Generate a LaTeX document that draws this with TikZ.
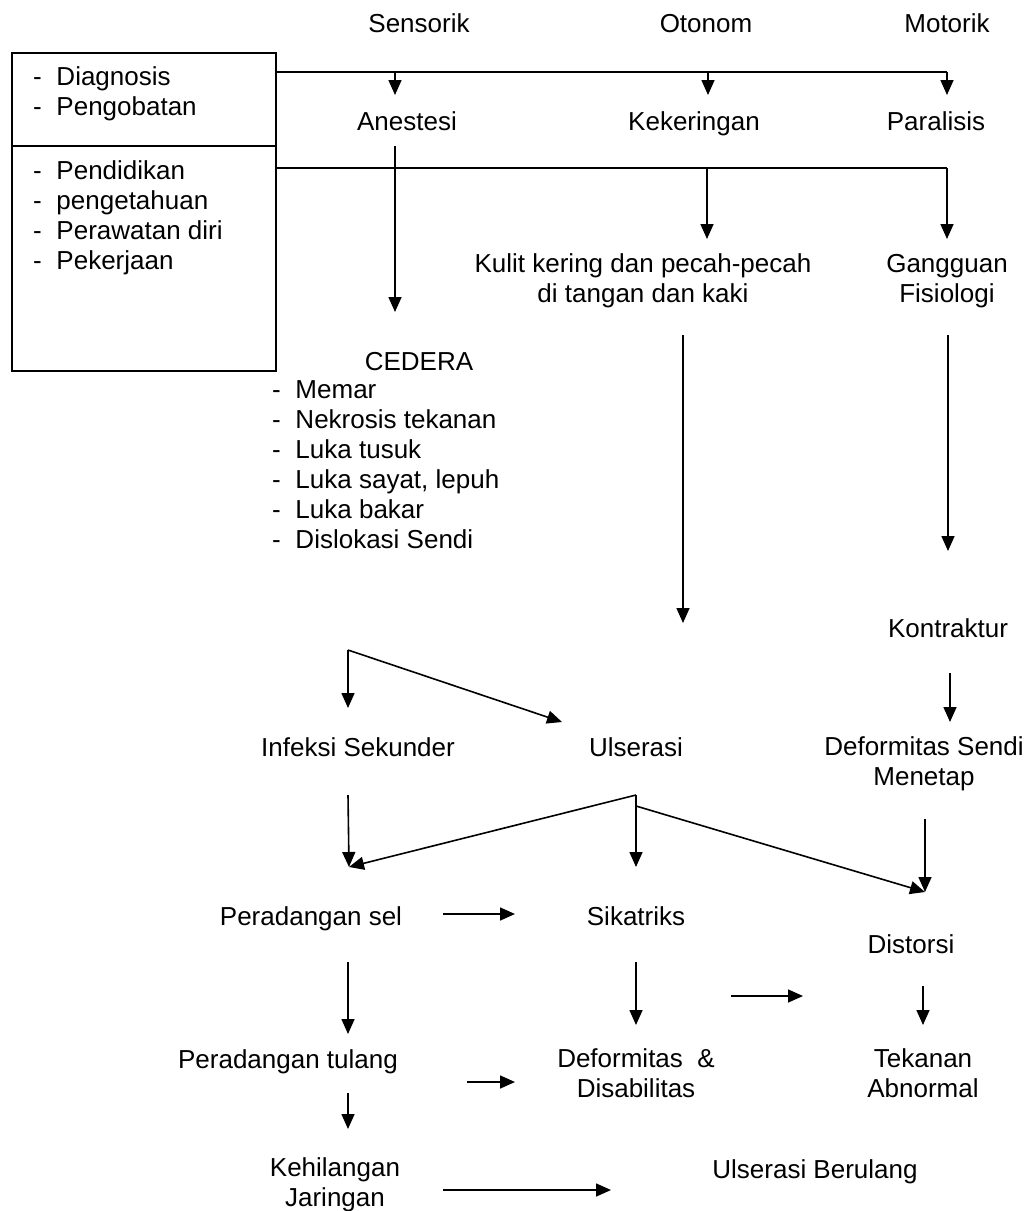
\documentclass[tikz,border=0pt]{standalone}
\usepackage{fontspec}
\setmainfont{Liberation Sans}
\usetikzlibrary{positioning,arrows.meta}

\tikzset{
  teks/.style={inner sep=0pt, outer sep=0pt, align=center, font=\fontsize{26}{30}\selectfont},
  daftar/.style={teks, align=left, anchor=north west},
  kotak/.style={draw, line width=1.8pt, inner sep=0pt, anchor=north west},
  garis/.style={line width=1.6pt},
  panah/.style={garis, -{Triangle[length=15pt,width=13pt]}},
}
\newcommand{\butir}[1]{\makebox[23.5pt][l]{-}#1}

\begin{document}
\begin{tikzpicture}[x=1pt,y=-1pt]
  \useasboundingbox (0,0) rectangle (1031,1211);

  % kotak faktor
  \node[kotak, minimum width=264pt, minimum height=93pt] (medis) at (11,52) {};
  \node[kotak, minimum width=264pt, minimum height=225pt] (didik) at (11,145) {};
  \node[daftar] (medisisi) at (33,67) {\butir{Diagnosis}\\\butir{Pengobatan}};
  \node[daftar] (didikisi) at (33,161) {\butir{Pendidikan}\\\butir{pengetahuan}\\\butir{Perawatan diri}\\\butir{Pekerjaan}};

  % saraf
  \node[teks, anchor=base] (sensorik) at (419,32) {Sensorik};
  \node[teks, anchor=base] (otonom) at (706,32) {Otonom};
  \node[teks, anchor=base] (motorik) at (947,32) {Motorik};
  \node[teks, anchor=base] (anestesi) at (407,130) {Anestesi};
  \node[teks, anchor=base] (kering) at (694,130) {Kekeringan};
  \node[teks, anchor=base] (paralisis) at (936,130) {Paralisis};

  \node[teks, anchor=north] (kulit) at (643,254) {Kulit kering dan pecah-pecah\\di tangan dan kaki};
  \node[teks, anchor=north] (fisiologi) at (947,254) {Gangguan\\Fisiologi};
  \node[teks, anchor=base] (cedera) at (419,370) {CEDERA};
  \node[daftar] (cederaisi) at (272,381) {\butir{Memar}\\\butir{Nekrosis tekanan}\\\butir{Luka tusuk}\\\butir{Luka sayat, lepuh}\\\butir{Luka bakar}\\\butir{Dislokasi Sendi}};

  \node[teks, anchor=base] (kontraktur) at (948,637) {Kontraktur};
  \node[teks, anchor=base] (infeksi) at (358,756) {Infeksi Sekunder};
  \node[teks, anchor=base] (ulserasi) at (636,756) {Ulserasi};
  \node[teks, anchor=north] (sendi) at (924,737) {Deformitas Sendi\\Menetap};
  \node[teks, anchor=base] (radangsel) at (311,925) {Peradangan sel};
  \node[teks, anchor=base] (sikatriks) at (636,925) {Sikatriks};
  \node[teks, anchor=base] (distorsi) at (911,953) {Distorsi};
  \node[teks, anchor=base] (radangtulang) at (288,1068) {Peradangan tulang};
  \node[teks, anchor=north] (disabilitas) at (636,1049) {Deformitas\ \ \&\\Disabilitas};
  \node[teks, anchor=north] (tekanan) at (923,1049) {Tekanan\\Abnormal};
  \node[teks, anchor=north] (jaringan) at (335,1158) {Kehilangan\\Jaringan};
  \node[teks, anchor=base] (berulang) at (815,1178) {Ulserasi Berulang};

  % titik ujung panah
  \coordinate (bus1) at (275,72);
  \coordinate (bus2) at (275,168);
  \coordinate (anestesi-in) at (395,95);
  \coordinate (kering-in) at (708,95);
  \coordinate (paralisis-in) at (947,95);
  \coordinate (kulit-in) at (707,239);
  \coordinate (fisiologi-in) at (947,239);
  \coordinate (anestesi-out) at (395,146);
  \coordinate (cedera-in) at (395,312);
  \coordinate (kulit-out) at (683,335);
  \coordinate (kulit-end) at (683,623);
  \coordinate (fisiologi-out) at (948,335);
  \coordinate (kontraktur-in) at (948,551);
  \coordinate (cabang) at (348,650);
  \coordinate (infeksi-in) at (348,708);
  \coordinate (ulserasi-in) at (562,722);
  \coordinate (kontraktur-out) at (950,673);
  \coordinate (sendi-in) at (950,722);
  \coordinate (infeksi-out) at (348,795);
  \coordinate (radangsel-in) at (349,867);
  \coordinate (ulserasi-out) at (636,795);
  \coordinate (ulserasi-mid) at (636,806);
  \coordinate (sikatriks-in) at (636,867);
  \coordinate (sendi-out) at (925,819);
  \coordinate (distorsi-in) at (925,892);
  \coordinate (radangsel-r) at (443,914);
  \coordinate (sikatriks-l) at (515,914);
  \coordinate (radangsel-out) at (348,962);
  \coordinate (radangtulang-in) at (348,1034);
  \coordinate (sikatriks-out) at (636,962);
  \coordinate (disabilitas-in) at (636,1025);
  \coordinate (sikatriks-r) at (731,996);
  \coordinate (tekanan-l) at (803,996);
  \coordinate (distorsi-out) at (923,986);
  \coordinate (tekanan-in) at (923,1025);
  \coordinate (radangtulang-r) at (467,1082);
  \coordinate (disabilitas-l) at (515,1082);
  \coordinate (radangtulang-out) at (348,1093);
  \coordinate (jaringan-in) at (348,1129);
  \coordinate (jaringan-r) at (443,1190);
  \coordinate (berulang-l) at (611,1190);

  % panah
  \draw[garis] (bus1) -- (bus1 -| paralisis-in);
  \draw[panah] (bus1 -| anestesi-in) -- (anestesi-in);
  \draw[panah] (bus1 -| kering-in) -- (kering-in);
  \draw[panah] (bus1 -| paralisis-in) -- (paralisis-in);
  \draw[garis] (bus2) -- (bus2 -| fisiologi-in);
  \draw[panah] (bus2 -| kulit-in) -- (kulit-in);
  \draw[panah] (bus2 -| fisiologi-in) -- (fisiologi-in);
  \draw[panah] (anestesi-out) -- (cedera-in);
  \draw[panah] (kulit-out) -- (kulit-end);
  \draw[panah] (fisiologi-out) -- (kontraktur-in);
  \draw[panah] (cabang) -- (infeksi-in);
  \draw[panah] (cabang) -- (ulserasi-in);
  \draw[panah] (kontraktur-out) -- (sendi-in);
  \draw[panah] (infeksi-out) -- (radangsel-in);
  \draw[panah] (ulserasi-out) -- (radangsel-in);
  \draw[panah] (ulserasi-out) -- (sikatriks-in);
  \draw[panah] (ulserasi-mid) -- (distorsi-in);
  \draw[panah] (sendi-out) -- (distorsi-in);
  \draw[panah] (radangsel-r) -- (sikatriks-l);
  \draw[panah] (radangsel-out) -- (radangtulang-in);
  \draw[panah] (sikatriks-out) -- (disabilitas-in);
  \draw[panah] (sikatriks-r) -- (tekanan-l);
  \draw[panah] (distorsi-out) -- (tekanan-in);
  \draw[panah] (radangtulang-r) -- (disabilitas-l);
  \draw[panah] (radangtulang-out) -- (jaringan-in);
  \draw[panah] (jaringan-r) -- (berulang-l);
\end{tikzpicture}
\end{document}
